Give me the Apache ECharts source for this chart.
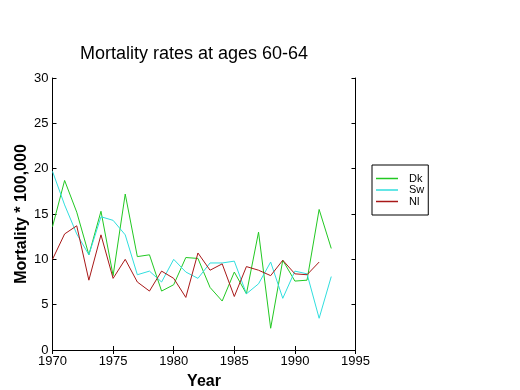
<!DOCTYPE html>
<html><head><meta charset="utf-8">
<script src="https://cdn.jsdelivr.net/npm/echarts@6/dist/echarts.min.js"></script>
<style>html,body{margin:0;padding:0;background:#fff}#c{width:520px;height:390px}</style>
</head><body><div id="c"></div>
<script>
const years = [1970,1971,1972,1973,1974,1975,1976,1977,1978,1979,1980,1981,1982,1983,1984,1985,1986,1987,1988,1989,1990,1991,1992,1993];
const dk = [13.6,18.7,15.2,10.5,15.3,8.2,17.2,10.3,10.5,6.5,7.2,10.2,10.1,6.9,5.4,8.6,6.2,13.0,2.4,9.9,7.6,7.7,15.5,11.2];
const sw = [19.7,16.0,12.8,10.5,14.7,14.3,12.7,8.3,8.7,7.5,10.0,8.6,7.9,9.6,9.6,9.8,6.2,7.3,9.7,5.7,8.7,8.4,3.5,8.1];
const nl = [10.0,12.8,13.7,7.7,12.7,7.9,10.0,7.5,6.5,8.7,7.9,5.8,10.7,8.8,9.5,5.9,9.2,8.8,8.2,9.9,8.4,8.3,9.7,null];
const xTicks = [1970,1975,1980,1985,1990,1995];
const yTicks = [0,5,10,15,20,25,30];
const names = ['Dk','Sw','Nl'];
const colors = ['#22c822','#30dede','#a81818'];

const font = 'Liberation Sans, Arial, sans-serif';
const chart = echarts.init(document.getElementById('c'), null, {renderer:'canvas'});
const mk = (d) => years.map((y,i)=>[y,d[i]]);
const axLine = {show:true, lineStyle:{color:'#000', width:1}};
chart.setOption({
  animation:false,
  backgroundColor:'#fff',
  title:{text:'Mortality rates at ages 60-64', left:189, top:40, textAlign:'center',
    textStyle:{fontFamily:font, fontSize:18, fontWeight:'normal', color:'#000'}},
  legend:{orient:'vertical', left:372, top:165,
    data:names.map((n,i)=>({name:n, icon:'rect', itemStyle:{color:colors[i], borderWidth:0}})),
    itemWidth:22, itemHeight:1.5, itemGap:0.5, borderColor:'#000', borderWidth:1, padding:[8,4,8,4],
    backgroundColor:'#fff', textStyle:{fontFamily:font, fontSize:11, color:'#000', padding:[0,0,0,6]}},
  grid:{left:52.5, right:164.5, top:78, bottom:40, containLabel:false, outerBoundsMode:'none'},
  xAxis:[{type:'value', min:1970, max:1995, interval:5, position:'bottom',
      name:'Year', nameLocation:'middle', nameGap:24,
      nameTextStyle:{fontFamily:font, fontSize:16, fontWeight:'bold', color:'#000'},
      axisLine:axLine, axisTick:{inside:true, length:4, lineStyle:{color:'#000'}},
      axisLabel:{fontFamily:font, fontSize:13, color:'#000', margin:5, formatter:(v)=>String(v)},
      splitLine:{show:false}},
    {type:'value', min:1970, max:1995, interval:5, position:'top',
      axisLine:axLine, axisTick:{inside:true, length:4, lineStyle:{color:'#000'}},
      axisLabel:{show:false}, splitLine:{show:false}}],
  yAxis:[{type:'value', min:0, max:30, interval:5, position:'left',
      name:'Mortality * 100,000', nameLocation:'middle', nameGap:23, nameMoveOverlap:false,
      nameTextStyle:{fontFamily:font, fontSize:16, fontWeight:'bold', color:'#000'},
      axisLine:axLine, axisTick:{inside:true, length:4, lineStyle:{color:'#000'}},
      axisLabel:{fontFamily:font, fontSize:13, color:'#000', margin:4},
      splitLine:{show:false}},
    {type:'value', min:0, max:30, interval:5, position:'right',
      axisLine:axLine, axisTick:{inside:true, length:4, lineStyle:{color:'#000'}},
      axisLabel:{show:false}, splitLine:{show:false}}],
  series:[dk,sw,nl].map((d,i)=>({name:names[i], type:'line', data:mk(d), symbol:'none',
    showSymbol:false, connectNulls:false, lineStyle:{width:1, color:colors[i]}, itemStyle:{color:colors[i]}}))
});
</script></body></html>
